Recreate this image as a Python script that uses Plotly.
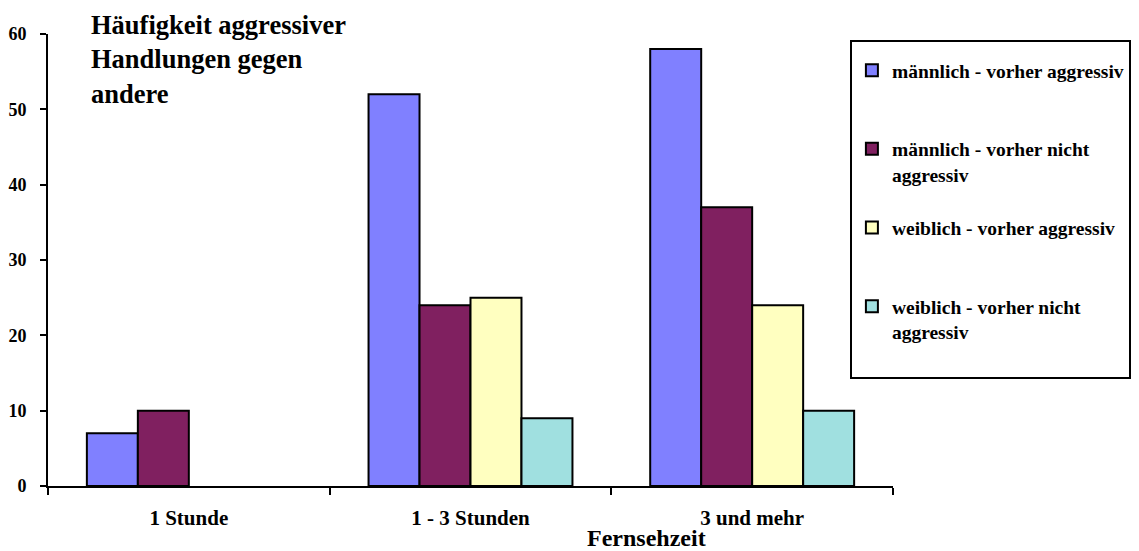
import plotly.graph_objects as go

categories = ["1 Stunde", "1 - 3 Stunden", "3 und mehr"]
series_names = [
    "männlich - vorher aggressiv<br> ",
    "männlich - vorher nicht<br>aggressiv",
    "weiblich - vorher aggressiv<br> ",
    "weiblich - vorher nicht<br>aggressiv<br> ",
]
m_aggr = [7, 52, 58]
m_nicht = [10, 24, 37]
w_aggr = [None, 25, 24]
w_nicht = [None, 9, 10]
values = [m_aggr, m_nicht, w_aggr, w_nicht]
colors = ["#8080FF", "#802060", "#FFFFC0", "#A0E0E0"]
y_ticks = [0, 10, 20, 30, 40, 50, 60]

FONT = "Times New Roman, Liberation Serif, serif"

fig = go.Figure()
for i, (name, vals, col) in enumerate(zip(series_names, values, colors)):
    fig.add_trace(go.Bar(
        x=categories, y=vals, name=name,
        marker=dict(color=col, line=dict(color="black", width=2)),
        legendgroup=str(i),
    ))

fig.update_layout(
    width=1131, height=543,
    margin=dict(l=40, r=246, t=26, b=65, autoexpand=False),
    paper_bgcolor="white", plot_bgcolor="white",
    font=dict(family=FONT, color="black", size=16, weight="bold"),
    barmode="group", bargap=0.276, bargroupgap=0,
    showlegend=True,
    legend=dict(
        x=0.949, y=0.987, xanchor="left", yanchor="top",
        bordercolor="black", borderwidth=2, bgcolor="white",
        font=dict(family=FONT, size=19.5, weight="bold", color="black"),
        traceorder="grouped", tracegroupgap=25, valign="top",
        title=dict(text=" ", font=dict(size=7)),
        entrywidth=320, entrywidthmode="pixels",
    ),
    xaxis=dict(
        type="category", showline=True, linecolor="black", linewidth=2,
        ticks="outside", tickson="boundaries", ticklen=7, tickwidth=2, tickcolor="black",
        showgrid=False, tickfont=dict(size=21, family=FONT, weight="bold"),
        ticklabelstandoff=12,
    ),
    yaxis=dict(
        range=[0, 60], tickvals=y_ticks, showline=True, linecolor="black", linewidth=2,
        ticks="outside", ticklen=6, tickwidth=2, tickcolor="black",
        showgrid=False, zeroline=False, tickfont=dict(size=18, family=FONT, weight="bold"),
        ticklabelstandoff=10,
    ),
    annotations=[
        dict(text="Häufigkeit aggressiver<br>Handlungen gegen<br>andere",
             xref="paper", yref="paper", x=0.049, y=1.058, xanchor="left", yanchor="top",
             align="left", showarrow=False,
             font=dict(family=FONT, size=26.5, weight="bold", color="black")),
        dict(text="Fernsehzeit", xref="paper", yref="paper", x=0.708, y=-0.114,
             xanchor="center", yanchor="middle", showarrow=False,
             font=dict(family=FONT, size=24, weight="bold", color="black")),
    ],
)

fig.write_html("out.html")
